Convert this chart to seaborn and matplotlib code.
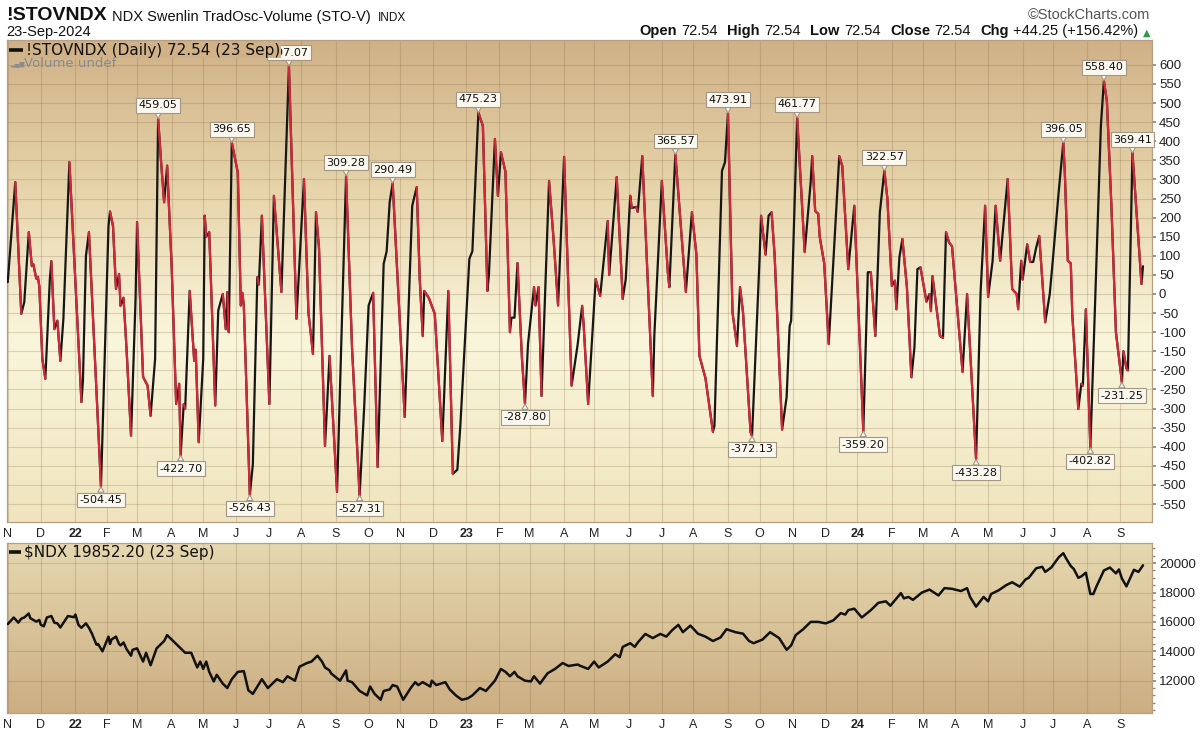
import matplotlib
matplotlib.use("Agg")
import matplotlib.pyplot as plt
import matplotlib.colors as mcolors
from matplotlib.collections import LineCollection
import seaborn as sns
import pandas as pd
import numpy as np

# --- Swenlin TradOsc-Volume (turning points) ---
osc_dates = [
    "2021-11-01", "2021-11-08", "2021-11-12", "2021-11-16", "2021-11-19", "2021-11-23", "2021-11-24",
    "2021-11-26", "2021-11-29", "2021-11-30", "2021-12-02", "2021-12-06", "2021-12-09", "2021-12-10",
    "2021-12-14", "2021-12-16", "2021-12-20", "2021-12-22", "2021-12-28",
    "2022-01-07", "2022-01-10", "2022-01-12", "2022-01-14", "2022-01-26", "2022-02-02", "2022-02-03",
    "2022-02-07", "2022-02-09", "2022-02-11", "2022-02-14", "2022-02-16", "2022-02-18", "2022-02-23",
    "2022-02-28", "2022-03-01", "2022-03-07", "2022-03-10", "2022-03-14", "2022-03-17", "2022-03-21",
    "2022-03-23", "2022-03-25", "2022-03-29", "2022-04-01", "2022-04-06", "2022-04-08", "2022-04-11",
    "2022-04-13", "2022-04-14", "2022-04-19", "2022-04-22", "2022-04-25", "2022-04-27", "2022-05-02",
    "2022-05-03", "2022-05-04", "2022-05-06", "2022-05-12", "2022-05-16", "2022-05-19", "2022-05-23",
    "2022-05-24", "2022-05-25", "2022-05-27", "2022-06-02", "2022-06-06", "2022-06-07", "2022-06-08",
    "2022-06-14", "2022-06-16", "2022-06-21", "2022-06-22", "2022-06-24", "2022-07-01", "2022-07-06",
    "2022-07-13", "2022-07-20", "2022-07-27", "2022-08-03", "2022-08-08", "2022-08-11", "2022-08-15",
    "2022-08-17", "2022-08-23", "2022-08-26", "2022-09-02", "2022-09-12", "2022-09-16", "2022-09-23",
    "2022-09-28", "2022-10-03", "2022-10-06", "2022-10-11", "2022-10-17", "2022-10-19", "2022-10-21",
    "2022-10-25", "2022-11-04", "2022-11-11", "2022-11-16", "2022-11-18", "2022-11-22", "2022-11-23",
    "2022-11-28", "2022-12-02", "2022-12-09", "2022-12-15", "2022-12-20", "2022-12-23", "2022-12-27",
    "2023-01-04", "2023-01-06", "2023-01-12", "2023-01-17", "2023-01-20", "2023-01-23", "2023-01-27",
    "2023-01-31", "2023-02-02", "2023-02-07", "2023-02-10", "2023-02-13", "2023-02-15", "2023-02-17",
    "2023-02-22", "2023-02-24", "2023-02-28", "2023-03-06", "2023-03-07", "2023-03-09", "2023-03-13",
    "2023-03-20", "2023-03-23", "2023-03-28", "2023-04-03", "2023-04-10", "2023-04-13", "2023-04-14",
    "2023-04-19", "2023-04-20", "2023-04-25", "2023-05-02", "2023-05-05", "2023-05-12", "2023-05-15",
    "2023-05-22", "2023-05-26", "2023-05-30", "2023-06-02", "2023-06-05", "2023-06-08", "2023-06-09",
    "2023-06-14", "2023-06-23", "2023-06-26", "2023-07-03", "2023-07-07", "2023-07-10", "2023-07-14",
    "2023-07-25", "2023-07-31", "2023-08-03", "2023-08-07", "2023-08-11", "2023-08-18", "2023-08-21",
    "2023-08-28", "2023-08-30", "2023-09-01", "2023-09-06", "2023-09-11", "2023-09-13", "2023-09-15",
    "2023-09-22", "2023-09-25", "2023-10-02", "2023-10-03", "2023-10-06", "2023-10-10", "2023-10-12",
    "2023-10-16", "2023-10-23", "2023-10-26", "2023-10-30", "2023-10-31", "2023-11-06", "2023-11-13",
    "2023-11-17", "2023-11-20", "2023-11-22", "2023-11-24", "2023-11-27", "2023-11-30", "2023-12-05",
    "2023-12-14", "2023-12-18", "2023-12-22", "2023-12-28",
    "2024-01-05", "2024-01-10", "2024-01-12", "2024-01-17", "2024-01-22", "2024-01-25", "2024-01-29",
    "2024-02-01", "2024-02-05", "2024-02-06", "2024-02-08", "2024-02-12", "2024-02-15", "2024-02-20",
    "2024-02-22", "2024-02-26", "2024-02-28", "2024-03-05", "2024-03-07", "2024-03-08", "2024-03-11",
    "2024-03-18", "2024-03-20", "2024-03-22", "2024-03-26", "2024-03-28", "2024-04-08", "2024-04-11",
    "2024-04-19", "2024-04-24", "2024-04-29", "2024-05-01", "2024-05-06", "2024-05-08", "2024-05-13",
    "2024-05-20", "2024-05-23", "2024-05-28", "2024-05-29", "2024-05-31", "2024-06-03", "2024-06-06",
    "2024-06-10", "2024-06-12", "2024-06-14", "2024-06-18", "2024-06-24", "2024-06-27", "2024-07-01",
    "2024-07-05", "2024-07-10", "2024-07-11", "2024-07-15", "2024-07-17", "2024-07-18", "2024-07-24",
    "2024-07-26", "2024-07-29", "2024-07-31", "2024-08-02", "2024-08-05", "2024-08-14", "2024-08-16",
    "2024-08-20", "2024-08-23", "2024-08-28", "2024-09-03", "2024-09-04", "2024-09-06", "2024-09-09",
    "2024-09-12", "2024-09-20", "2024-09-23",
]
osc_values = [
    31, 293, -52, -21, 162, 73, 78,
    40, 45, 20, -170, -222, 39, 86,
    -92, -70, -175, -65, 345,
    -283, -227, 100, 162, -504.45, 178, 216,
    178, 13, 52, -31, -10, -144, -371,
    -13, 188, -217, -240, -319, -170, 459.05,
    345, 240, 336, 73, -288, -235, -422.70,
    -289, -300, 8, -175, -146, -388, -170,
    205, 150, 162, -292, -43, 0, -92,
    5, -100, 396.65, 318, -30, 3, -30,
    -526.43, -446, 44, 25, 205, -288, 257,
    5, 597.07, -65, 301, -50, -157, 214,
    120, -398, -162, -518, 309.28, -144, -527.31,
    -300, -30, 3, -453, 79, 112, 240,
    290.49, -322, 231, 280, 39, -110, 8,
    -10, -52, -385, 8, -471, -460, -345,
    92, 112, 475.23, 440, 8, 50, 406,
    257, 371, 320, -100, -62, -62, 81,
    -170, -287.80, -131, 18, -30, 18, -267,
    296, 144, -30, 359, -240, -160, -133,
    -31, -80, -288, 39, -5, 191, 50,
    306, -13, 39, 257, 225, 228, 215,
    361, -267, -110, 296, 57, 18, 365.57,
    5, 214, 103, -162, -220, -361, -345,
    322, 345, 473.91, -48, -136, 18, -48,
    -361, -372.13, 92, 205, 103, 205, 214,
    103, -355, -270, -84, -70, 461.77, 110,
    293, 361, 217, 210, 150, 80, -131,
    361, 335, 65, 231,
    -359.20, 57, 57, -110, 214, 322.57, 250,
    21, 35, -40, 96, 144, 18, -218,
    -140, 65, 70, -20, 0, -45, 47,
    -110, -115, 162, 135, 125, -204, 0,
    -433.28, 5, 231, -8, 87, 231, 87,
    301, 13, 0, -40, 87, 38, 130,
    84, 84, 122, 152, -74, 0, 87,
    270, 396.05, 320, 87, 80, -55, -301,
    -235, -240, -40, -280, -402.82, 440, 558.40,
    505, 231, -100, -231.25, -150, -195, -200,
    369.41, 26, 72.54,
]
peak_dates = ["2022-03-21", "2022-05-27", "2022-07-20", "2022-09-12", "2022-10-25", "2023-01-12",
              "2023-07-14", "2023-09-01", "2023-11-06", "2024-01-25", "2024-07-10", "2024-08-16",
              "2024-09-12"]
trough_dates = ["2022-01-26", "2022-04-11", "2022-06-14", "2022-09-23", "2023-02-24", "2023-09-25",
                "2024-01-05", "2024-04-19", "2024-08-05", "2024-09-03"]

# --- Nasdaq 100 close ---
ndx_dates = [
    "2021-11-01", "2021-11-05", "2021-11-10", "2021-11-12", "2021-11-16", "2021-11-19", "2021-11-22",
    "2021-11-26", "2021-11-30", "2021-12-01", "2021-12-03", "2021-12-07", "2021-12-10", "2021-12-14",
    "2021-12-16", "2021-12-20", "2021-12-27", "2021-12-31",
    "2022-01-03", "2022-01-05", "2022-01-07", "2022-01-12", "2022-01-14", "2022-01-18", "2022-01-21",
    "2022-01-24", "2022-01-27", "2022-02-02", "2022-02-03", "2022-02-04", "2022-02-09", "2022-02-11",
    "2022-02-14", "2022-02-16", "2022-02-18", "2022-02-23", "2022-02-24", "2022-03-01", "2022-03-07",
    "2022-03-09", "2022-03-14", "2022-03-18", "2022-03-25", "2022-03-29", "2022-04-05", "2022-04-08",
    "2022-04-14", "2022-04-20", "2022-04-22", "2022-04-26", "2022-04-28", "2022-05-02", "2022-05-04",
    "2022-05-06", "2022-05-11", "2022-05-13", "2022-05-19", "2022-05-24", "2022-05-27", "2022-06-02",
    "2022-06-08", "2022-06-13", "2022-06-16", "2022-06-21", "2022-06-24", "2022-06-30", "2022-07-08",
    "2022-07-14", "2022-07-19", "2022-07-26", "2022-07-29", "2022-08-05", "2022-08-10", "2022-08-16",
    "2022-08-19", "2022-08-23", "2022-08-26", "2022-08-29", "2022-09-06", "2022-09-12", "2022-09-13",
    "2022-09-16", "2022-09-23", "2022-09-30", "2022-10-04", "2022-10-07", "2022-10-13", "2022-10-17",
    "2022-10-21", "2022-10-25", "2022-10-28", "2022-11-03", "2022-11-10", "2022-11-15", "2022-11-17",
    "2022-11-22", "2022-11-29", "2022-11-30", "2022-12-05", "2022-12-13", "2022-12-16", "2022-12-22",
    "2022-12-28",
    "2023-01-03", "2023-01-06", "2023-01-13", "2023-01-19", "2023-01-27", "2023-02-02", "2023-02-07",
    "2023-02-10", "2023-02-15", "2023-02-17", "2023-02-24", "2023-03-02", "2023-03-06", "2023-03-10",
    "2023-03-17", "2023-03-24", "2023-03-31", "2023-04-06", "2023-04-14", "2023-04-18", "2023-04-25",
    "2023-05-01", "2023-05-04", "2023-05-12", "2023-05-19", "2023-05-24", "2023-05-26", "2023-06-02",
    "2023-06-07", "2023-06-09", "2023-06-16", "2023-06-23", "2023-06-30", "2023-07-06", "2023-07-12",
    "2023-07-18", "2023-07-21", "2023-07-28", "2023-08-04", "2023-08-11", "2023-08-18", "2023-08-25",
    "2023-08-31", "2023-09-08", "2023-09-15", "2023-09-21", "2023-09-26", "2023-10-04", "2023-10-11",
    "2023-10-19", "2023-10-26", "2023-10-31", "2023-11-03", "2023-11-10", "2023-11-17", "2023-11-24",
    "2023-12-01", "2023-12-08", "2023-12-15", "2023-12-20", "2023-12-22", "2023-12-28",
    "2024-01-04", "2024-01-12", "2024-01-19", "2024-01-26", "2024-01-31", "2024-02-09", "2024-02-13",
    "2024-02-16", "2024-02-21", "2024-02-29", "2024-03-07", "2024-03-15", "2024-03-21", "2024-03-28",
    "2024-04-05", "2024-04-11", "2024-04-15", "2024-04-19", "2024-04-26", "2024-05-01", "2024-05-03",
    "2024-05-10", "2024-05-17", "2024-05-23", "2024-05-30", "2024-06-05", "2024-06-07", "2024-06-14",
    "2024-06-20", "2024-06-24", "2024-06-28", "2024-07-05", "2024-07-10", "2024-07-12", "2024-07-17",
    "2024-07-19", "2024-07-24", "2024-07-26", "2024-07-31", "2024-08-02", "2024-08-05", "2024-08-07",
    "2024-08-09", "2024-08-16", "2024-08-22", "2024-08-28", "2024-08-30", "2024-09-03", "2024-09-06",
    "2024-09-13", "2024-09-18", "2024-09-23",
]
ndx_values = [
    15850, 16300, 15950, 16220, 16300, 16573, 16250,
    16020, 16130, 15800, 15700, 16300, 16400, 15950,
    15900, 15620, 16400, 16320,
    16500, 15800, 15600, 15900, 15600, 15200, 14450,
    14500, 14000, 15000, 14500, 14800, 15000, 14500,
    14400, 14600, 14150, 13700, 14100, 14200, 13300,
    13900, 13050, 14200, 14700, 15100, 14600, 14300,
    13900, 13900, 13400, 12900, 13300, 12800, 13300,
    12600, 11950, 12400, 11800, 11500, 12100, 12600,
    12650, 11350, 11100, 11600, 12100, 11500, 12100,
    11900, 12300, 12000, 12950, 13200, 13300, 13700,
    13300, 12900, 12700, 12500, 12000, 12700, 12000,
    11900, 11300, 11000, 11600, 11100, 10700, 11300,
    11400, 11700, 11600, 10700, 11500, 11900, 11700,
    11900, 11600, 12000, 11700, 11900, 11400, 11000,
    10700,
    10800, 11000, 11500, 11300, 12000, 12800, 12600,
    12300, 12600, 12300, 12000, 11950, 12300, 11800,
    12500, 12800, 13200, 13000, 13100, 13000, 12800,
    13300, 12900, 13300, 13800, 13600, 14300, 14550,
    14300, 14600, 15180, 14900, 15180, 15000, 15450,
    15800, 15300, 15750, 15200, 15000, 14700, 14940,
    15500, 15300, 15200, 14700, 14550, 14800, 15300,
    14900, 14100, 14400, 15100, 15500, 16000, 16000,
    15900, 16100, 16600, 16500, 16800, 16900,
    16300, 16800, 17300, 17400, 17100, 17960, 17600,
    17700, 17500, 18000, 18200, 17800, 18300, 18250,
    18100, 18300, 17700, 17040, 17700, 17400, 17900,
    18150, 18500, 18700, 18400, 18900, 19000, 19650,
    19750, 19400, 19700, 20400, 20675, 20300, 19800,
    19600, 19000, 19100, 19350, 18400, 17900, 17900,
    18400, 19500, 19700, 19300, 19570, 18950, 18420,
    19550, 19400, 19852.20,
]
osc_ticks = list(range(-550, 601, 50))
ndx_ticks = [12000, 14000, 16000, 18000, 20000]
month_letters = "JFMAMJJASOND"

sns.set_theme(style="white")
plt.rcParams["font.family"] = ["Liberation Sans", "DejaVu Sans"]
plt.rcParams["axes.unicode_minus"] = False

bdays = pd.bdate_range("2021-11-01", "2024-10-15")


def bday_pos(dates):
    return bdays.searchsorted(pd.DatetimeIndex(pd.to_datetime(dates)))


def gradient(ax, stops):
    cmap = mcolors.LinearSegmentedColormap.from_list("bg", stops)
    grad = np.linspace(0, 1, 256).reshape(-1, 1)
    ax.imshow(grad, cmap=cmap, aspect="auto", extent=(0, 1, 0, 1), origin="upper",
              transform=ax.transAxes, zorder=-5, interpolation="bilinear")


W, H = 1200, 731
fig = plt.figure(figsize=(W / 100, H / 100), dpi=100)
fig.patch.set_facecolor("white")
ax1 = fig.add_axes([7 / W, 1 - 522 / H, 1145 / W, 482 / H])
ax2 = fig.add_axes([7 / W, 1 - 713 / H, 1145 / W, 170 / H])

gradient(ax1, [(0, "#d0b187"), (0.3, "#e6d3a9"), (0.62, "#faf6dc"), (1.0, "#efe4bd")])
gradient(ax2, [(0, "#e6d8b0"), (1.0, "#ccae82")])

ox = bday_pos(osc_dates)
oy = np.array(osc_values, dtype=float)
nx = bday_pos(ndx_dates)
ny = np.array(ndx_values, dtype=float)
last = bday_pos(["2024-09-23"])[0]

# oscillator: black everywhere, falling legs redrawn in red
sns.lineplot(x=ox, y=oy, ax=ax1, color="#161616", lw=1.6, estimator=None, sort=False, zorder=3)
pts = np.column_stack([ox, oy])
segs = np.stack([pts[:-1], pts[1:]], axis=1)
falling = np.diff(oy) < 0
ax1.add_collection(LineCollection(segs[falling], colors="#d3283a", linewidths=1.6,
                                  capstyle="round", zorder=4))

sns.lineplot(x=nx, y=ny, ax=ax2, color="#111111", lw=1.8, estimator=None, sort=False, zorder=3)

# value call-outs
box = dict(boxstyle="square,pad=0.22", fc="#fbf8ef", ec="#a39684", lw=0.8)
arrow = dict(arrowstyle="wedge,tail_width=0.55,shrink_factor=0.5", fc="#fbf8ef", ec="#a39684",
             lw=0.8, shrinkA=0, shrinkB=0)
for dlist, dy, va in [(peak_dates, 6, "bottom"), (trough_dates, -6, "top")]:
    for d in dlist:
        i = osc_dates.index(d)
        ax1.annotate(f"{osc_values[i]:.2f}", xy=(ox[i], oy[i]), xytext=(0, dy),
                     textcoords="offset points", ha="center", va=va, fontsize=8,
                     family="DejaVu Sans", color="#111111", bbox=box, arrowprops=arrow, zorder=6)

# axes styling
month_starts = pd.date_range("2021-11-01", "2024-09-01", freq="MS")
mpos = bday_pos(month_starts)
mlab = [f"{d.year % 100}" if d.month == 1 else month_letters[d.month - 1] for d in month_starts]

for ax in (ax1, ax2):
    ax.set_xlim(-0.5, last + 6)
    ax.set_xticks(mpos)
    ax.set_xticklabels(mlab)
    for lbl, d in zip(ax.get_xticklabels(), month_starts):
        if d.month == 1:
            lbl.set_fontweight("bold")
            lbl.set_fontsize(10.5)
    ax.tick_params(axis="x", length=0, labelsize=9, pad=4, colors="#222222")
    ax.yaxis.tick_right()
    ax.tick_params(axis="y", which="both", right=True, left=False, labelright=True,
                   labelleft=False, length=3, color="#9c8466", labelsize=9.5, pad=2,
                   labelcolor="#222222")
    ax.grid(True, color="#8a6a48", alpha=0.25, lw=0.8)
    for s in ax.spines.values():
        s.set_color("#b59f84")
        s.set_linewidth(0.9)
    ax.set_xlabel("")
    ax.set_ylabel("")

ax1.set_ylim(-597, 665)
ax1.set_yticks(osc_ticks)
ax2.set_ylim(9800, 21370)
ax2.set_yticks(ndx_ticks)
ax2.set_yticks(np.arange(10000, 21001, 500), minor=True)
ax2.tick_params(axis="y", which="minor", length=2)

# in-panel legends
ax1.plot([0.0015, 0.014], [0.979, 0.979], transform=ax1.transAxes, color="#111111",
         lw=2.6, solid_capstyle="butt", clip_on=False, zorder=7)
ax1.text(0.0165, 0.979, "!STOVNDX (Daily) 72.54 (23 Sep)", transform=ax1.transAxes,
         va="center", ha="left", fontsize=11, family="DejaVu Sans", color="#111111", zorder=7,
         bbox=dict(boxstyle="square,pad=0.05", fc="#d1b288", ec="none"))
ax1.text(0.003, 0.951, "\u2582\u2585\u2587", transform=ax1.transAxes, va="center", ha="left",
         fontsize=4.5, family="DejaVu Sans", color="#8c8c8c", zorder=7)
ax1.text(0.0145, 0.951, "Volume undef", transform=ax1.transAxes, va="center", ha="left",
         fontsize=9.5, family="DejaVu Sans", color="#8a8a8a", zorder=7)
ax2.plot([0.0015, 0.012], [0.947, 0.947], transform=ax2.transAxes, color="#111111",
         lw=2.6, solid_capstyle="butt", clip_on=False, zorder=7)
ax2.text(0.0145, 0.947, r"\$NDX 19852.20 (23 Sep)", transform=ax2.transAxes, va="center",
         ha="left", fontsize=11, family="DejaVu Sans", color="#111111", zorder=7)

# header
hdr = dict(family=["Liberation Sans", "DejaVu Sans"], color="#111111")
t1 = fig.text(6 / W, 1 - 20 / H, "!STOVNDX", fontsize=14, fontweight="bold", va="baseline", **hdr)
t2 = ax1.annotate("NDX Swenlin TradOsc-Volume (STO-V)", xy=(1, 0), xycoords=t1, xytext=(4, 0),
                  textcoords="offset points", va="bottom", fontsize=10.5,
                  annotation_clip=False, **hdr)
ax1.annotate("INDX", xy=(1, 0), xycoords=t2, xytext=(5, 0), textcoords="offset points",
             va="bottom", fontsize=8.5, annotation_clip=False, **hdr)
fig.text(6 / W, 1 - 36 / H, "23-Sep-2024", fontsize=10.5, va="baseline", **hdr)
fig.text(1150 / W, 1 - 19 / H, "\u00a9StockCharts.com", fontsize=10.5, ha="right",
         va="baseline", family=["Liberation Sans", "DejaVu Sans"], color="#555555")

prev = fig.text(1150 / W, 1 - 36 / H, "\u25b2", fontsize=7, ha="right", va="baseline",
                family="DejaVu Sans", color="#2f9a45")
pieces = [("Open", True), ("72.54", False), ("High", True), ("72.54", False), ("Low", True),
          ("72.54", False), ("Close", True), ("72.54", False), ("Chg", True),
          ("+44.25 (+156.42%)", False)]
for k, (s, bold) in enumerate(reversed(pieces)):
    gap = -3 if (bold or k == 0) else -7
    prev = ax1.annotate(s, xy=(0, 0), xycoords=prev, xytext=(gap, 0), textcoords="offset points",
                        ha="right", va="bottom", fontsize=10.5,
                        fontweight="bold" if bold else "normal", annotation_clip=False, **hdr)

fig.savefig("out.png", dpi=100, facecolor="white")
